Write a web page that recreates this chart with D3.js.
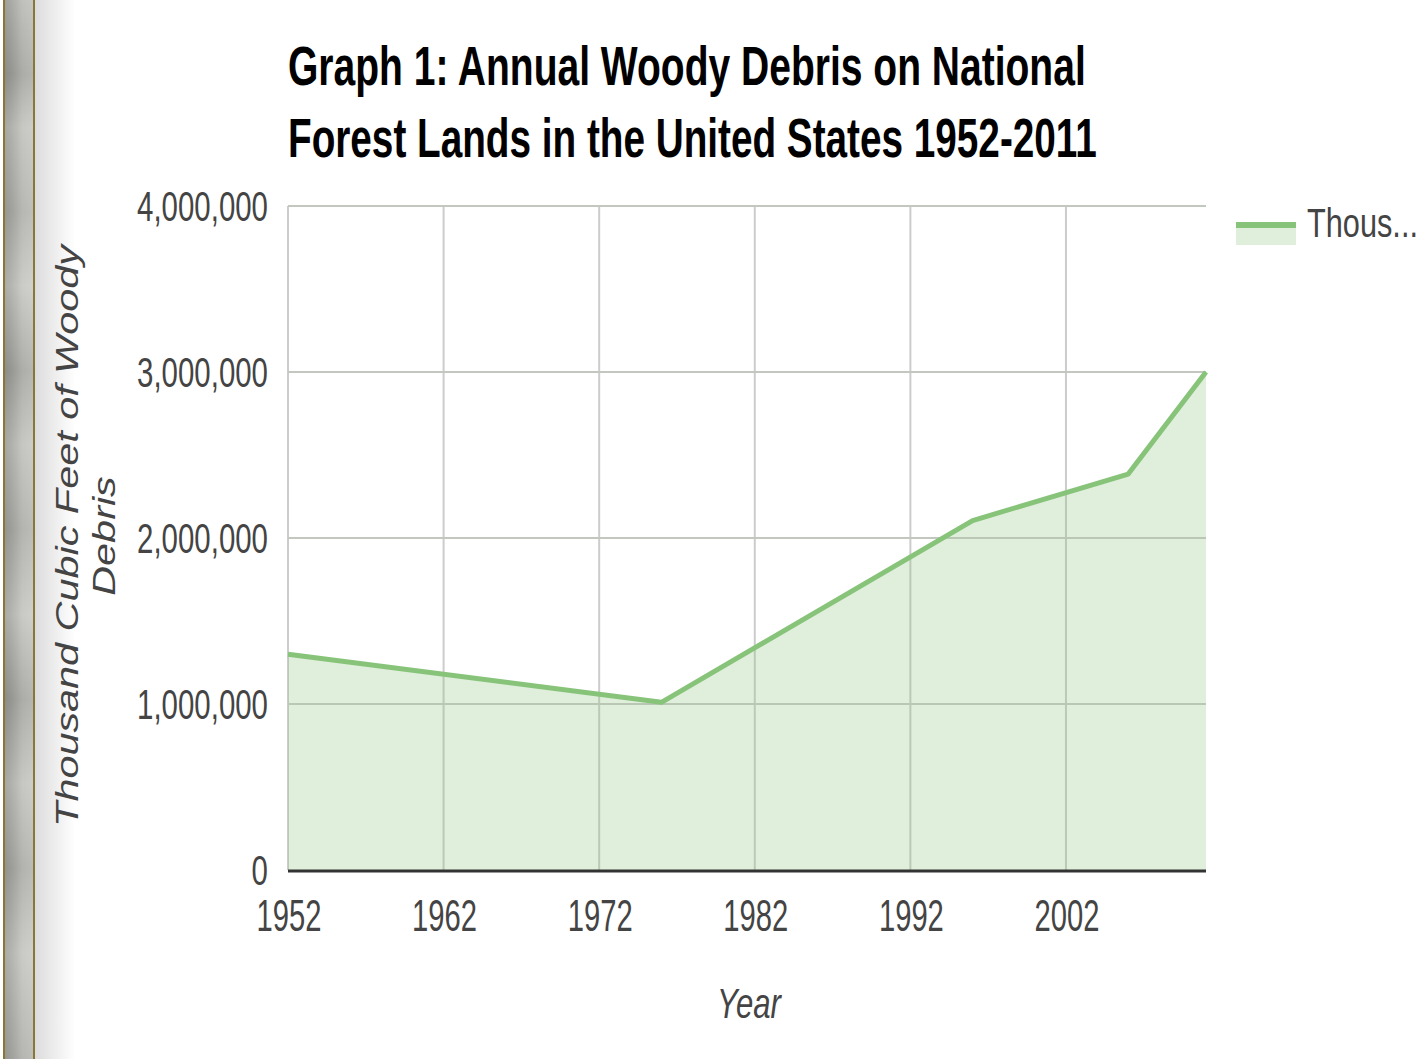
<!DOCTYPE html>
<html>
<head>
<meta charset="utf-8">
<script src="https://cdn.jsdelivr.net/npm/d3@7"></script>
<style>
	body { margin: 0; background: #fff; }
	text { font-family: 'Liberation Sans', Arial, sans-serif; }
</style>
</head>
<body>
<div id="graphic"></div>
<script>
// data
const years = [1952, 1976, 1996, 2006, 2011];
const values = [1300000, 1010000, 2105000, 2385000, 3000000];
const xTicks = [1952, 1962, 1972, 1982, 1992, 2002];
const yTicks = [0, 1000000, 2000000, 3000000, 4000000];
const titleLines = ['Graph 1: Annual Woody Debris on National', 'Forest Lands in the United States 1952-2011'];
const yTitleLines = ['Thousand Cubic Feet of Woody', 'Debris'];
const xTitle = 'Year';
const legendLabel = 'Thous...';

const width = 1420, height = 1059;
const plot = { left: 288, right: 1206, top: 206, bottom: 870 };
const lineColour = '#87c47a';

let graphic_data = years.map((d, i) => ({ year: d, value: values[i] }));

let svg = d3.select('#graphic')
	.append('svg')
	.attr('width', width)
	.attr('height', height)
	.style('display', 'block')
	.style('background-color', '#fff');

// squeeze text horizontally so it fits the width seen in the picture
function fit(sel, target) {
	sel.each(function () {
		let t = d3.select(this);
		let w = this.getComputedTextLength();
		let sx = target / w;
		let x = +t.attr('x') || 0, y = +t.attr('y') || 0;
		t.attr('x', 0).attr('y', 0)
			.attr('transform', 'translate(' + x + ',' + y + ') scale(' + sx + ',1)');
	});
}

// ---- left page edge
let defs = svg.append('defs');
let g1 = defs.append('linearGradient').attr('id', 'edgeV').attr('x1', 0).attr('x2', 0).attr('y1', 0).attr('y2', 1);
[[0, '#b5b5b0'], [0.07, '#9c9c98'], [0.12, '#bdbdb8'], [0.2, '#a9a9a5'], [0.27, '#c2c2bd'],
 [0.35, '#9e9e9a'], [0.42, '#bcbcb7'], [0.5, '#a6a6a2'], [0.58, '#c0c0bb'], [0.66, '#9d9d99'],
 [0.74, '#bdbdb8'], [0.82, '#a4a4a0'], [0.9, '#c1c1bc'], [1, '#a8a8a4']]
	.forEach(s => g1.append('stop').attr('offset', s[0]).attr('stop-color', s[1]));
let g2 = defs.append('linearGradient').attr('id', 'edgeH');
g2.append('stop').attr('offset', 0).attr('stop-color', '#000').attr('stop-opacity', 0.12);
g2.append('stop').attr('offset', 0.6).attr('stop-color', '#fff').attr('stop-opacity', 0.15);
g2.append('stop').attr('offset', 1).attr('stop-color', '#fff').attr('stop-opacity', 0.25);
let g3 = defs.append('linearGradient').attr('id', 'fade');
g3.append('stop').attr('offset', 0).attr('stop-color', '#dcdcdc');
g3.append('stop').attr('offset', 1).attr('stop-color', '#fff');

svg.append('rect').attr('x', 35).attr('y', 0).attr('width', 40).attr('height', height).attr('fill', 'url(#fade)');
svg.append('rect').attr('x', 4).attr('y', 0).attr('width', 30).attr('height', height).attr('fill', 'url(#edgeV)');
svg.append('rect').attr('x', 4).attr('y', 0).attr('width', 30).attr('height', height).attr('fill', 'url(#edgeH)');
svg.append('rect').attr('x', 3).attr('y', 0).attr('width', 2).attr('height', height).attr('fill', '#8a7636');
svg.append('rect').attr('x', 33).attr('y', 0).attr('width', 2).attr('height', height).attr('fill', '#8a7636');

// ---- scales
const x = d3.scaleLinear().domain([1952, 2011]).range([plot.left, plot.right]);
const y = d3.scaleLinear().domain([0, 4000000]).range([plot.bottom, plot.top]);

// gridlines
svg.append('g').selectAll('line.h')
	.data(yTicks.filter(d => d > 0))
	.join('line')
	.attr('x1', plot.left).attr('x2', plot.right)
	.attr('y1', d => y(d)).attr('y2', d => y(d))
	.attr('stroke', '#cccccc').attr('stroke-width', 2);

svg.append('g').selectAll('line.v')
	.data(xTicks)
	.join('line')
	.attr('x1', d => x(d)).attr('x2', d => x(d))
	.attr('y1', plot.top).attr('y2', plot.bottom)
	.attr('stroke', '#cccccc').attr('stroke-width', 2);

// area + line
let area = d3.area().x(d => x(d.year)).y0(y(0)).y1(d => y(d.value));
let line = d3.line().x(d => x(d.year)).y(d => y(d.value));

svg.append('path').datum(graphic_data)
	.attr('d', area)
	.attr('fill', lineColour).attr('fill-opacity', 0.27);

// gridlines show faintly through the fill
svg.append('g').selectAll('line.hv')
	.data(yTicks.filter(d => d > 0))
	.join('line')
	.attr('x1', plot.left).attr('x2', plot.right)
	.attr('y1', d => y(d)).attr('y2', d => y(d))
	.attr('stroke', '#b8c4b2').attr('stroke-width', 2).attr('stroke-opacity', 0.5);

svg.append('path').datum(graphic_data)
	.attr('d', line)
	.attr('fill', 'none')
	.attr('stroke', lineColour)
	.attr('stroke-width', 5)
	.attr('stroke-linejoin', 'round');

// baseline
svg.append('line')
	.attr('x1', plot.left).attr('x2', plot.right)
	.attr('y1', y(0) + 1).attr('y2', y(0) + 1)
	.attr('stroke', '#333').attr('stroke-width', 3);

// y tick labels
let ylab = svg.append('g').selectAll('text')
	.data(yTicks)
	.join('text')
	.attr('x', 268)
	.attr('y', d => y(d) + 15)
	.attr('text-anchor', 'end')
	.attr('font-size', 42)
	.attr('fill', '#444')
	.text(d => d3.format(',')(d));
let ysx = 131 / ylab.filter(d => d === 4000000).node().getComputedTextLength();
ylab.each(function () {
	let t = d3.select(this);
	t.attr('transform', 'translate(' + t.attr('x') + ',' + t.attr('y') + ') scale(' + ysx + ',1)')
		.attr('x', 0).attr('y', 0);
});

// x tick labels
svg.append('g').selectAll('text')
	.data(xTicks)
	.join('text')
	.attr('x', d => x(d) + 1)
	.attr('y', 931)
	.attr('text-anchor', 'middle')
	.attr('font-size', 44)
	.attr('fill', '#444')
	.text(d => d)
	.call(fit, 65);

// title
svg.append('g').selectAll('text')
	.data(titleLines)
	.join('text')
	.attr('x', 288)
	.attr('y', (d, i) => 85 + i * 72)
	.attr('font-size', 56)
	.attr('font-weight', 'bold')
	.attr('fill', '#000')
	.text(d => d)
	.each(function (d, i) { fit(d3.select(this), i === 0 ? 798 : 809); });

// axis titles
let yt = svg.append('g')
	.attr('transform', 'translate(78,536) rotate(-90)');
let ytl = yt.selectAll('text')
	.data(yTitleLines)
	.join('text')
	.attr('x', 0)
	.attr('y', (d, i) => i * 37)
	.attr('text-anchor', 'middle')
	.attr('font-size', 31)
	.attr('font-style', 'italic')
	.attr('fill', '#444')
	.text(d => d);
let tsx = 582 / ytl.filter((d, i) => i === 0).node().getComputedTextLength();
ytl.each(function () {
	let t = d3.select(this);
	t.attr('transform', 'translate(0,' + t.attr('y') + ') scale(' + tsx + ',1)').attr('y', 0);
});

svg.append('text')
	.attr('x', 749)
	.attr('y', 1018)
	.attr('text-anchor', 'middle')
	.attr('font-size', 42)
	.attr('font-style', 'italic')
	.attr('fill', '#444')
	.text(xTitle)
	.call(fit, 64);

// legend
svg.append('rect')
	.attr('x', 1236).attr('y', 225).attr('width', 60).attr('height', 20)
	.attr('fill', lineColour).attr('fill-opacity', 0.27);
svg.append('line')
	.attr('x1', 1236).attr('x2', 1296).attr('y1', 225).attr('y2', 225)
	.attr('stroke', lineColour).attr('stroke-width', 6);
svg.append('text')
	.attr('x', 1307).attr('y', 237)
	.attr('font-size', 40)
	.attr('fill', '#444')
	.text(legendLabel)
	.call(fit, 111);
</script>
</body>
</html>
